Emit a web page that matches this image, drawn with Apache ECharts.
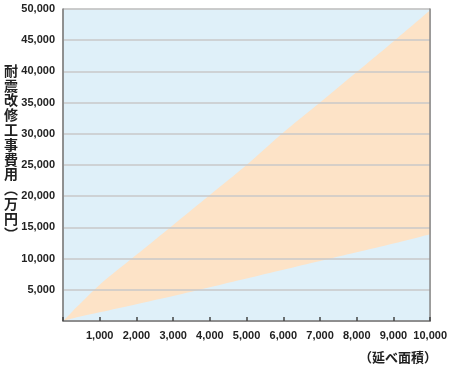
<!DOCTYPE html>
<html><head><meta charset="utf-8">
<script src="https://cdn.jsdelivr.net/npm/echarts@6/dist/echarts.min.js"></script>
<style>html,body{margin:0;padding:0;background:#fff}#c{width:450px;height:371px}</style>
</head><body><div id="c"></div>
<script>
const areaX = [0, 250, 500, 1000, 2000, 3000, 4000, 5000, 6000, 7000, 8000, 9000, 10000];
const upperCost = [0, 1500, 2950, 5800, 10600, 15400, 20200, 25000, 30200, 35000, 39900, 44800, 49800];
const lowerCost = [0, 400, 750, 1400, 2700, 4000, 5400, 6800, 8200, 9600, 11000, 12400, 13900];
const yAxisTitle = "耐震改修工事費用︵万円︶";
const xAxisTitle = "（延べ面積）";

const font = '"Liberation Sans", Arial, sans-serif';
const fmt = v => v === 0 ? '' : v.toLocaleString('en-US');
const chart = echarts.init(document.getElementById('c'), null, {renderer: 'canvas'});
chart.setOption({
  animation: false,
  grid: {left: 63, right: 18, top: 9, bottom: 50, show: true, backgroundColor: '#dff0f9', borderColor: '#b0b0b0', borderWidth: 1},
  xAxis: {
    type: 'value', min: 0, max: 10000, interval: 1000, z: 10,
    axisLine: {lineStyle: {color: '#7a7a7a', width: 1.5}},
    axisTick: {show: true, inside: true, length: 4, lineStyle: {color: '#444', width: 1.5}},
    splitLine: {show: false},
    axisLabel: {formatter: fmt, color: '#222', fontFamily: font, fontWeight: 'bold', fontSize: 11, margin: 9}
  },
  yAxis: [{
    type: 'value', min: 0, max: 50000, interval: 5000, z: 10,
    axisLine: {show: true, lineStyle: {color: '#7a7a7a', width: 1.5}},
    axisTick: {show: false},
    splitLine: {show: true, lineStyle: {color: '#c9c9c9', width: 1.5}},
    axisLabel: {formatter: fmt, color: '#222', fontFamily: font, fontWeight: 'bold', fontSize: 11, margin: 8}
  }, {
    type: 'value', min: 0, max: 50000, interval: 5000, position: 'right', z: 10,
    axisLine: {show: true, lineStyle: {color: '#8a8a8a', width: 1.5}},
    axisTick: {show: false}, axisLabel: {show: false}, splitLine: {show: false}
  }],
  series: [{
    type: 'line', z: 2, smooth: 0.3, symbol: 'none',
    data: areaX.map((x, i) => [x, upperCost[i]]),
    lineStyle: {width: 0}, areaStyle: {color: '#fde3c7', opacity: 1}
  }, {
    type: 'line', z: 3, smooth: 0.3, symbol: 'none',
    data: areaX.map((x, i) => [x, lowerCost[i]]),
    lineStyle: {width: 0}, areaStyle: {color: '#dff0f9', opacity: 1}
  }],
  graphic: [{
    type: 'text', x: 11, y: 63,
    style: {text: yAxisTitle.split('').join('\n'), font: 'bold 14px "Noto Sans CJK JP", sans-serif', lineHeight: 14.8, fill: '#222', align: 'center', verticalAlign: 'top'}
  }, {
    type: 'text', x: 398, y: 357,
    style: {text: xAxisTitle, font: 'bold 13px "Noto Sans CJK JP", sans-serif', fill: '#222', align: 'center', verticalAlign: 'middle'}
  }]
});
</script></body></html>
